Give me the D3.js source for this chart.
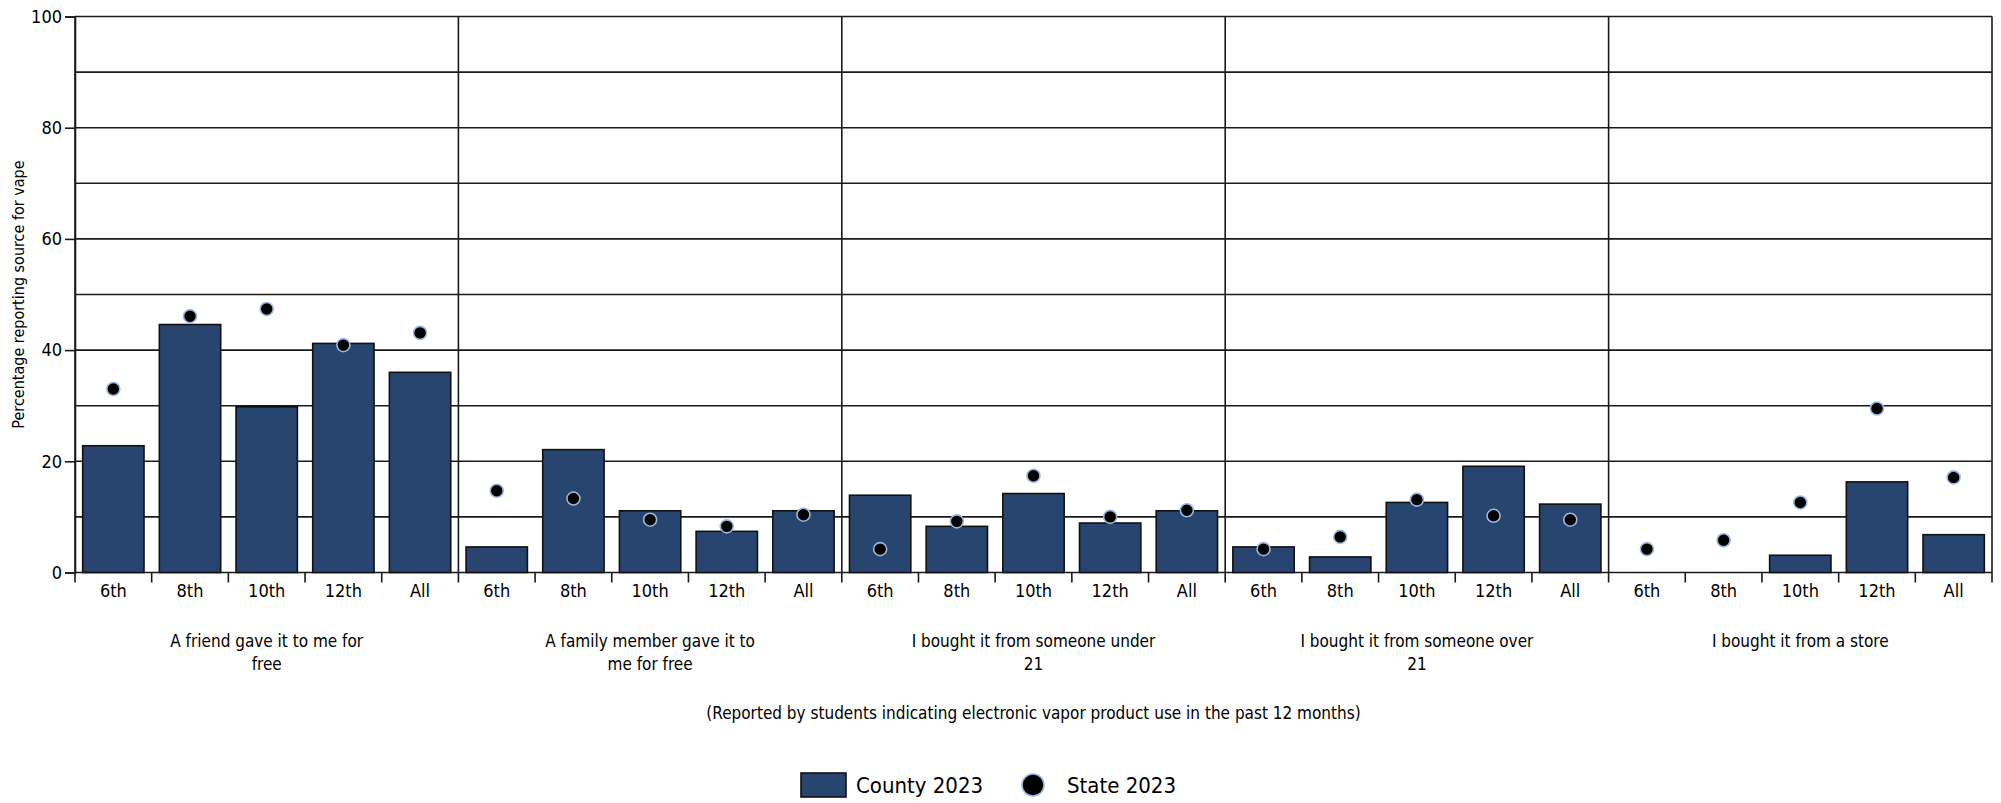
<!DOCTYPE html>
<html>
<head>
<meta charset="utf-8">
<script src="https://cdn.jsdelivr.net/npm/d3@7"></script>
<style>
  html, body { margin: 0; padding: 0; background: #ffffff; }
  svg { display: block; }
  text { font-family: "DejaVu Sans Condensed", "Liberation Sans Narrow", sans-serif; fill: #000; }
</style>
</head>
<body>
<svg id="chart" width="2001" height="803"></svg>
<script>
// ---- data ----
const groupLabels = [
  ["A friend gave it to me for", "free"],
  ["A family member gave it to", "me for free"],
  ["I bought it from someone under", "21"],
  ["I bought it from someone over", "21"],
  ["I bought it from a store"]
];
const grades = ["6th", "8th", "10th", "12th", "All"];
const countyValues = [
  [22.8, 44.6, 29.8, 41.2, 36.0],
  [4.6, 22.1, 11.1, 7.4, 11.1],
  [13.9, 8.3, 14.2, 8.9, 11.1],
  [4.6, 2.8, 12.6, 19.1, 12.3],
  [null, null, 3.1, 16.3, 6.8]
];
const stateValues = [
  [33.0, 46.1, 47.4, 40.9, 43.1],
  [14.7, 13.3, 9.5, 8.3, 10.4],
  [4.2, 9.2, 17.4, 10.0, 11.2],
  [4.2, 6.4, 13.1, 10.2, 9.5],
  [4.2, 5.8, 12.6, 29.5, 17.1]
];
const yTicks = [0, 20, 40, 60, 80, 100];
const yGrid = [0, 10, 20, 30, 40, 50, 60, 70, 80, 90, 100];
const seriesNames = ["County 2023", "State 2023"];
const yTitle = "Percentage reporting source for vape";
const subtitle = "(Reported by students indicating electronic vapor product use in the past 12 months)";

// ---- layout ----
const svg = d3.select("#chart");
const mLeft = 75, mRight = 1992, mTop = 16.5, mBottom = 572.5;
const barColor = "#27456f";
const dotStroke = "#9bb8dc";

const groupIdx = d3.range(groupLabels.length);
const x0 = d3.scaleBand().domain(groupIdx).range([mLeft, mRight]).padding(0);
const x1 = d3.scaleBand().domain(grades).range([0, x0.bandwidth()]).paddingInner(0.2).paddingOuter(0.1);
const y = d3.scaleLinear().domain([0, 100]).range([mBottom, mTop]);

// horizontal grid
svg.append("g").selectAll("line").data(yGrid).join("line")
  .attr("x1", mLeft).attr("x2", mRight)
  .attr("y1", d => y(d)).attr("y2", d => y(d))
  .attr("stroke", "#1a1a1a").attr("stroke-width", 1.6);

// vertical panel lines (extending below axis as ticks)
const panelEdges = groupIdx.map(i => x0(i)).concat([mRight]);
svg.append("g").selectAll("line").data(panelEdges).join("line")
  .attr("x1", d => d).attr("x2", d => d)
  .attr("y1", mTop).attr("y2", mBottom + 10)
  .attr("stroke", "#1a1a1a").attr("stroke-width", 1.6);

// inner category ticks
const step = x1.step();
const innerTicks = [];
groupIdx.forEach(i => { for (let k = 1; k < grades.length; k++) innerTicks.push(x0(i) + k * step); });
svg.append("g").selectAll("line").data(innerTicks).join("line")
  .attr("x1", d => d).attr("x2", d => d)
  .attr("y1", mBottom).attr("y2", mBottom + 10)
  .attr("stroke", "#1a1a1a").attr("stroke-width", 1.6);

// y axis
const yAxis = d3.axisLeft(y).tickValues(yTicks).tickSize(10).tickPadding(3);
const ya = svg.append("g").attr("transform", `translate(${mLeft},0)`).call(yAxis);
ya.select(".domain").attr("stroke", "#1a1a1a").attr("stroke-width", 1.6);
ya.selectAll(".tick line").attr("stroke", "#1a1a1a").attr("stroke-width", 1.6);
ya.selectAll(".tick text").style("font-size", "18px").attr("fill", "#000")
  .style("font-family", '"DejaVu Sans Condensed", sans-serif');

// y title
svg.append("text")
  .attr("transform", `translate(24,${(mTop + mBottom) / 2}) rotate(-90)`)
  .attr("text-anchor", "middle")
  .style("font-size", "16px")
  .text(yTitle);

// bars
const groups = svg.append("g").selectAll("g").data(groupIdx).join("g")
  .attr("transform", i => `translate(${x0(i)},0)`);

groups.selectAll("rect").data(i => grades.map((g, k) => ({ g, v: countyValues[i][k] })).filter(d => d.v != null))
  .join("rect")
  .attr("x", d => x1(d.g)).attr("width", x1.bandwidth())
  .attr("y", d => y(d.v)).attr("height", d => y(0) - y(d.v))
  .attr("fill", barColor).attr("stroke", "#111").attr("stroke-width", 1.6);

groups.selectAll("circle").data(i => grades.map((g, k) => ({ g, v: stateValues[i][k] })).filter(d => d.v != null))
  .join("circle")
  .attr("cx", d => x1(d.g) + x1.bandwidth() / 2).attr("cy", d => y(d.v))
  .attr("r", 6.5)
  .attr("fill", "#000").attr("stroke", dotStroke).attr("stroke-width", 1.6);

// category labels
groups.selectAll("text.cat").data(grades).join("text")
  .attr("class", "cat")
  .attr("x", d => x1(d) + x1.bandwidth() / 2)
  .attr("y", 597)
  .attr("text-anchor", "middle")
  .style("font-size", "18px")
  .text(d => d);

// group labels
groups.each(function(i) {
  const t = d3.select(this).append("text")
    .attr("x", x0.bandwidth() / 2).attr("y", 647)
    .attr("text-anchor", "middle").style("font-size", "17px");
  groupLabels[i].forEach((line, li) => {
    t.append("tspan").attr("x", x0.bandwidth() / 2).attr("dy", li === 0 ? 0 : 23).text(line);
  });
});

// subtitle
svg.append("text")
  .attr("x", (mLeft + mRight) / 2).attr("y", 719)
  .attr("text-anchor", "middle").style("font-size", "17px")
  .text(subtitle);

// legend
const lg = svg.append("g");
lg.append("rect").attr("x", 801).attr("y", 773).attr("width", 45).attr("height", 24)
  .attr("fill", barColor).attr("stroke", "#111").attr("stroke-width", 1.6);
lg.append("text").attr("x", 856).attr("y", 793).style("font-size", "22px").text(seriesNames[0]);
lg.append("circle").attr("cx", 1033).attr("cy", 785).attr("r", 11)
  .attr("fill", "#000").attr("stroke", dotStroke).attr("stroke-width", 1.6);
lg.append("text").attr("x", 1067).attr("y", 793).style("font-size", "22px").text(seriesNames[1]);
</script>
</body>
</html>
